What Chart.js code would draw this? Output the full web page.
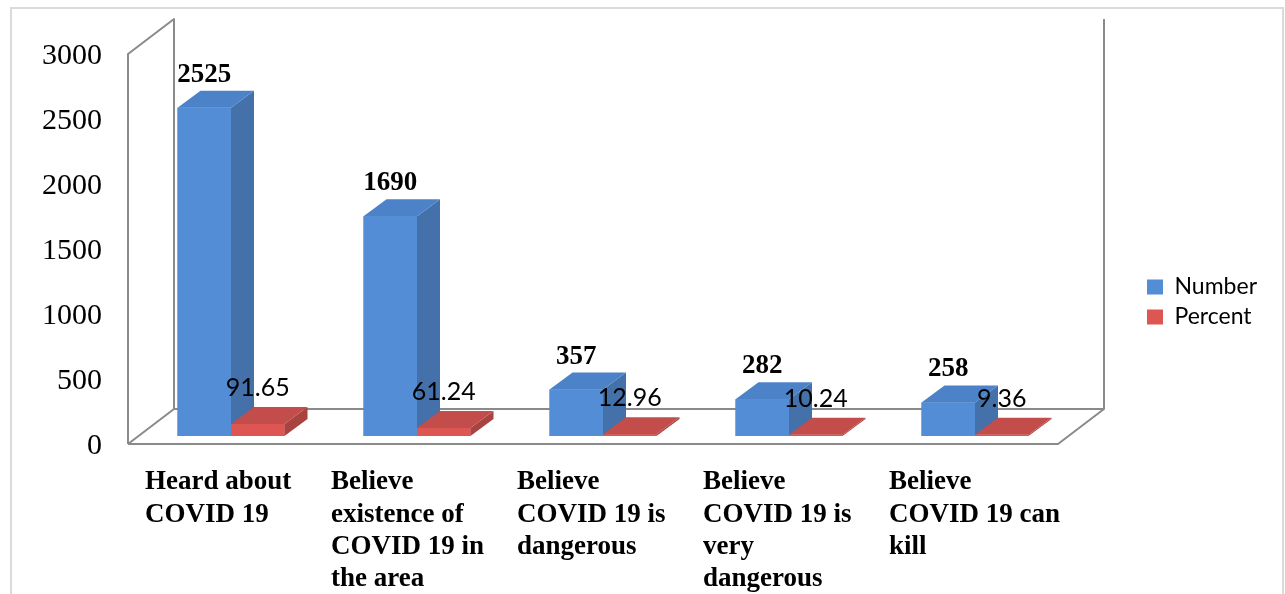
<!DOCTYPE html>
<html>
<head>
<meta charset="utf-8">
<title>COVID 19 awareness</title>
<script src="https://cdn.jsdelivr.net/npm/chart.js@4.4.1/dist/chart.umd.min.js"></script>
<style>
  html, body { margin: 0; padding: 0; background: #fff; }
  #wrap { position: relative; width: 1285px; height: 594px; overflow: hidden; }
  #frame { position: absolute; left: 10px; top: 7px; width: 1274px; height: 620px;
           border: 2px solid #dadada; box-sizing: border-box; }
  #wrap canvas { position: absolute; left: 0; top: 0; }
</style>
</head>
<body>
<div id="wrap">
  <div id="frame"></div>
  <canvas id="myChart" width="1285" height="594"></canvas>
</div>
<script>
var categories = [
    ['Heard about', 'COVID 19'],
    ['Believe', 'existence of', 'COVID 19 in', 'the area'],
    ['Believe', 'COVID 19 is', 'dangerous'],
    ['Believe', 'COVID 19 is', 'very', 'dangerous'],
    ['Believe', 'COVID 19 can', 'kill']
];
var numberValues = [2525, 1690, 357, 282, 258];
var percentValues = [91.65, 61.24, 12.96, 10.24, 9.36];
var seriesNames = ['Number', 'Percent'];
var yMin = 0, yMax = 3000, yStep = 500;

// face colours for the 3d boxes: front, right side, top
var faces = [
    { front: '#538dd5', side: '#4471aa', top: '#4c82c8' },
    { front: '#dd5652', side: '#a84340', top: '#c24d4a' }
];

var BAR_DEPTH = { x: 23, y: -17 };
var WALL_DEPTH = { x: 46, y: -35 };
var FLOOR_SHIFT = { x: -10, y: 8 };   // front edge of the floor vs. the bar plane

function poly(ctx, pts, fill) {
    ctx.beginPath();
    ctx.moveTo(pts[0][0], pts[0][1]);
    for (var i = 1; i < pts.length; i++) ctx.lineTo(pts[i][0], pts[i][1]);
    ctx.closePath();
    ctx.fillStyle = fill;
    ctx.fill();
}

var box3d = {
    id: 'box3d',
    beforeDatasetsDraw: function (chart) {
        var ctx = chart.ctx, a = chart.chartArea, y = chart.scales.y;
        var x0 = a.left + FLOOR_SHIFT.x, x1 = a.right + FLOOR_SHIFT.x;
        var yb = y.getPixelForValue(yMin) + FLOOR_SHIFT.y;
        var yt = y.getPixelForValue(yMax) + FLOOR_SHIFT.y;
        var dx = WALL_DEPTH.x, dy = WALL_DEPTH.y;
        ctx.save();
        ctx.strokeStyle = '#8a8a8a';
        ctx.lineWidth = 2;
        ctx.lineJoin = 'round';
        ctx.beginPath();
        // side wall
        ctx.moveTo(x0, yb);
        ctx.lineTo(x0, yt);
        ctx.lineTo(x0 + dx, yt + dy);
        ctx.lineTo(x0 + dx, yb + dy);
        // floor
        ctx.moveTo(x0, yb);
        ctx.lineTo(x1, yb);
        ctx.lineTo(x1 + dx, yb + dy);
        ctx.lineTo(x0 + dx, yb + dy);
        ctx.lineTo(x0, yb);
        // back wall edge
        ctx.moveTo(x1 + dx, yb + dy);
        ctx.lineTo(x1 + dx, yt + dy);
        ctx.stroke();
        ctx.restore();
    },
    afterDatasetsDraw: function (chart) {
        var ctx = chart.ctx;
        var metas = [chart.getDatasetMeta(0), chart.getDatasetMeta(1)];
        var dx = BAR_DEPTH.x, dy = BAR_DEPTH.y;
        ctx.save();
        for (var i = 0; i < categories.length; i++) {
            metas.forEach(function (meta, d) {
                var p = meta.data[i].getProps(['x', 'y', 'base', 'width'], true);
                var l = p.x - p.width / 2, r = p.x + p.width / 2;
                var c = faces[d];
                poly(ctx, [[l, p.y], [r, p.y], [r, p.base], [l, p.base]], c.front);
                poly(ctx, [[r, p.y], [r + dx, p.y + dy], [r + dx, p.base + dy], [r, p.base]], c.side);
                poly(ctx, [[l, p.y], [r, p.y], [r + dx, p.y + dy], [l + dx, p.y + dy]], c.top);
            });
        }
        // value labels
        ctx.fillStyle = '#000';
        ctx.textAlign = 'center';
        ctx.textBaseline = 'middle';
        metas[0].data.forEach(function (bar, i) {
            ctx.font = 'bold 27px "Liberation Serif"';
            ctx.fillText(String(numberValues[i]), bar.x, bar.y - 33);
        });
        metas[1].data.forEach(function (bar, i) {
            ctx.font = '25px Lato';
            ctx.fillText(percentValues[i].toFixed(2), bar.x, bar.y - 36);
        });
        ctx.restore();
    }
};

var ctx = document.getElementById('myChart').getContext('2d');
var myChart = new Chart(ctx, {
    type: 'bar',
    data: {
        labels: categories,
        datasets: [{
            label: seriesNames[0],
            data: numberValues,
            backgroundColor: faces[0].front,
            xAxisID: 'x',
            yAxisID: 'y'
        }, {
            label: seriesNames[1],
            data: percentValues,
            backgroundColor: faces[1].front,
            xAxisID: 'x',
            yAxisID: 'y'
        }]
    },
    options: {
        responsive: false,
        animation: false,
        events: [],
        layout: { padding: { top: 10, right: 18, bottom: 0, left: 0 } },
        datasets: {
            bar: { categoryPercentage: 0.575, barPercentage: 1 }
        },
        plugins: {
            tooltip: { enabled: false },
            legend: {
                position: 'right',
                labels: {
                    boxWidth: 16,
                    boxHeight: 15,
                    padding: 7,
                    color: '#000',
                    font: { family: 'Lato', size: 23 }
                }
            }
        },
        scales: {
            x: {
                grid: { display: false },
                border: { display: false },
                ticks: {
                    autoSkip: false,
                    maxRotation: 0,
                    minRotation: 0,
                    align: 'start',
                    labelOffset: -86,
                    padding: 22,
                    color: '#000',
                    font: { family: 'Liberation Serif', size: 27, weight: 'bold', lineHeight: 1.2 }
                },
                afterFit: function (s) { s.height = 158; }
            },
            y: {
                min: yMin,
                max: yMax,
                grid: { display: false },
                border: { display: false },
                ticks: {
                    stepSize: yStep,
                    padding: 28,
                    labelOffset: 10,
                    color: '#000',
                    font: { family: 'Liberation Serif', size: 30 },
                    callback: function (v) { return String(v); }
                },
                afterFit: function (s) { s.width = 138; }
            },
            // empty axes that only hold space above and right of the plot
            x2: {
                type: 'linear',
                position: 'top',
                grid: { display: false },
                border: { display: false },
                ticks: { display: false },
                afterFit: function (s) { s.height = 36; }
            },
            y2: {
                type: 'linear',
                position: 'right',
                grid: { display: false },
                border: { display: false },
                ticks: { display: false },
                afterFit: function (s) {
                    var lw = s.chart.legend ? s.chart.legend.width : 128;
                    s.width = 1285 - 18 - lw - 1068;
                }
            }
        }
    },
    plugins: [box3d]
});
</script>
</body>
</html>
